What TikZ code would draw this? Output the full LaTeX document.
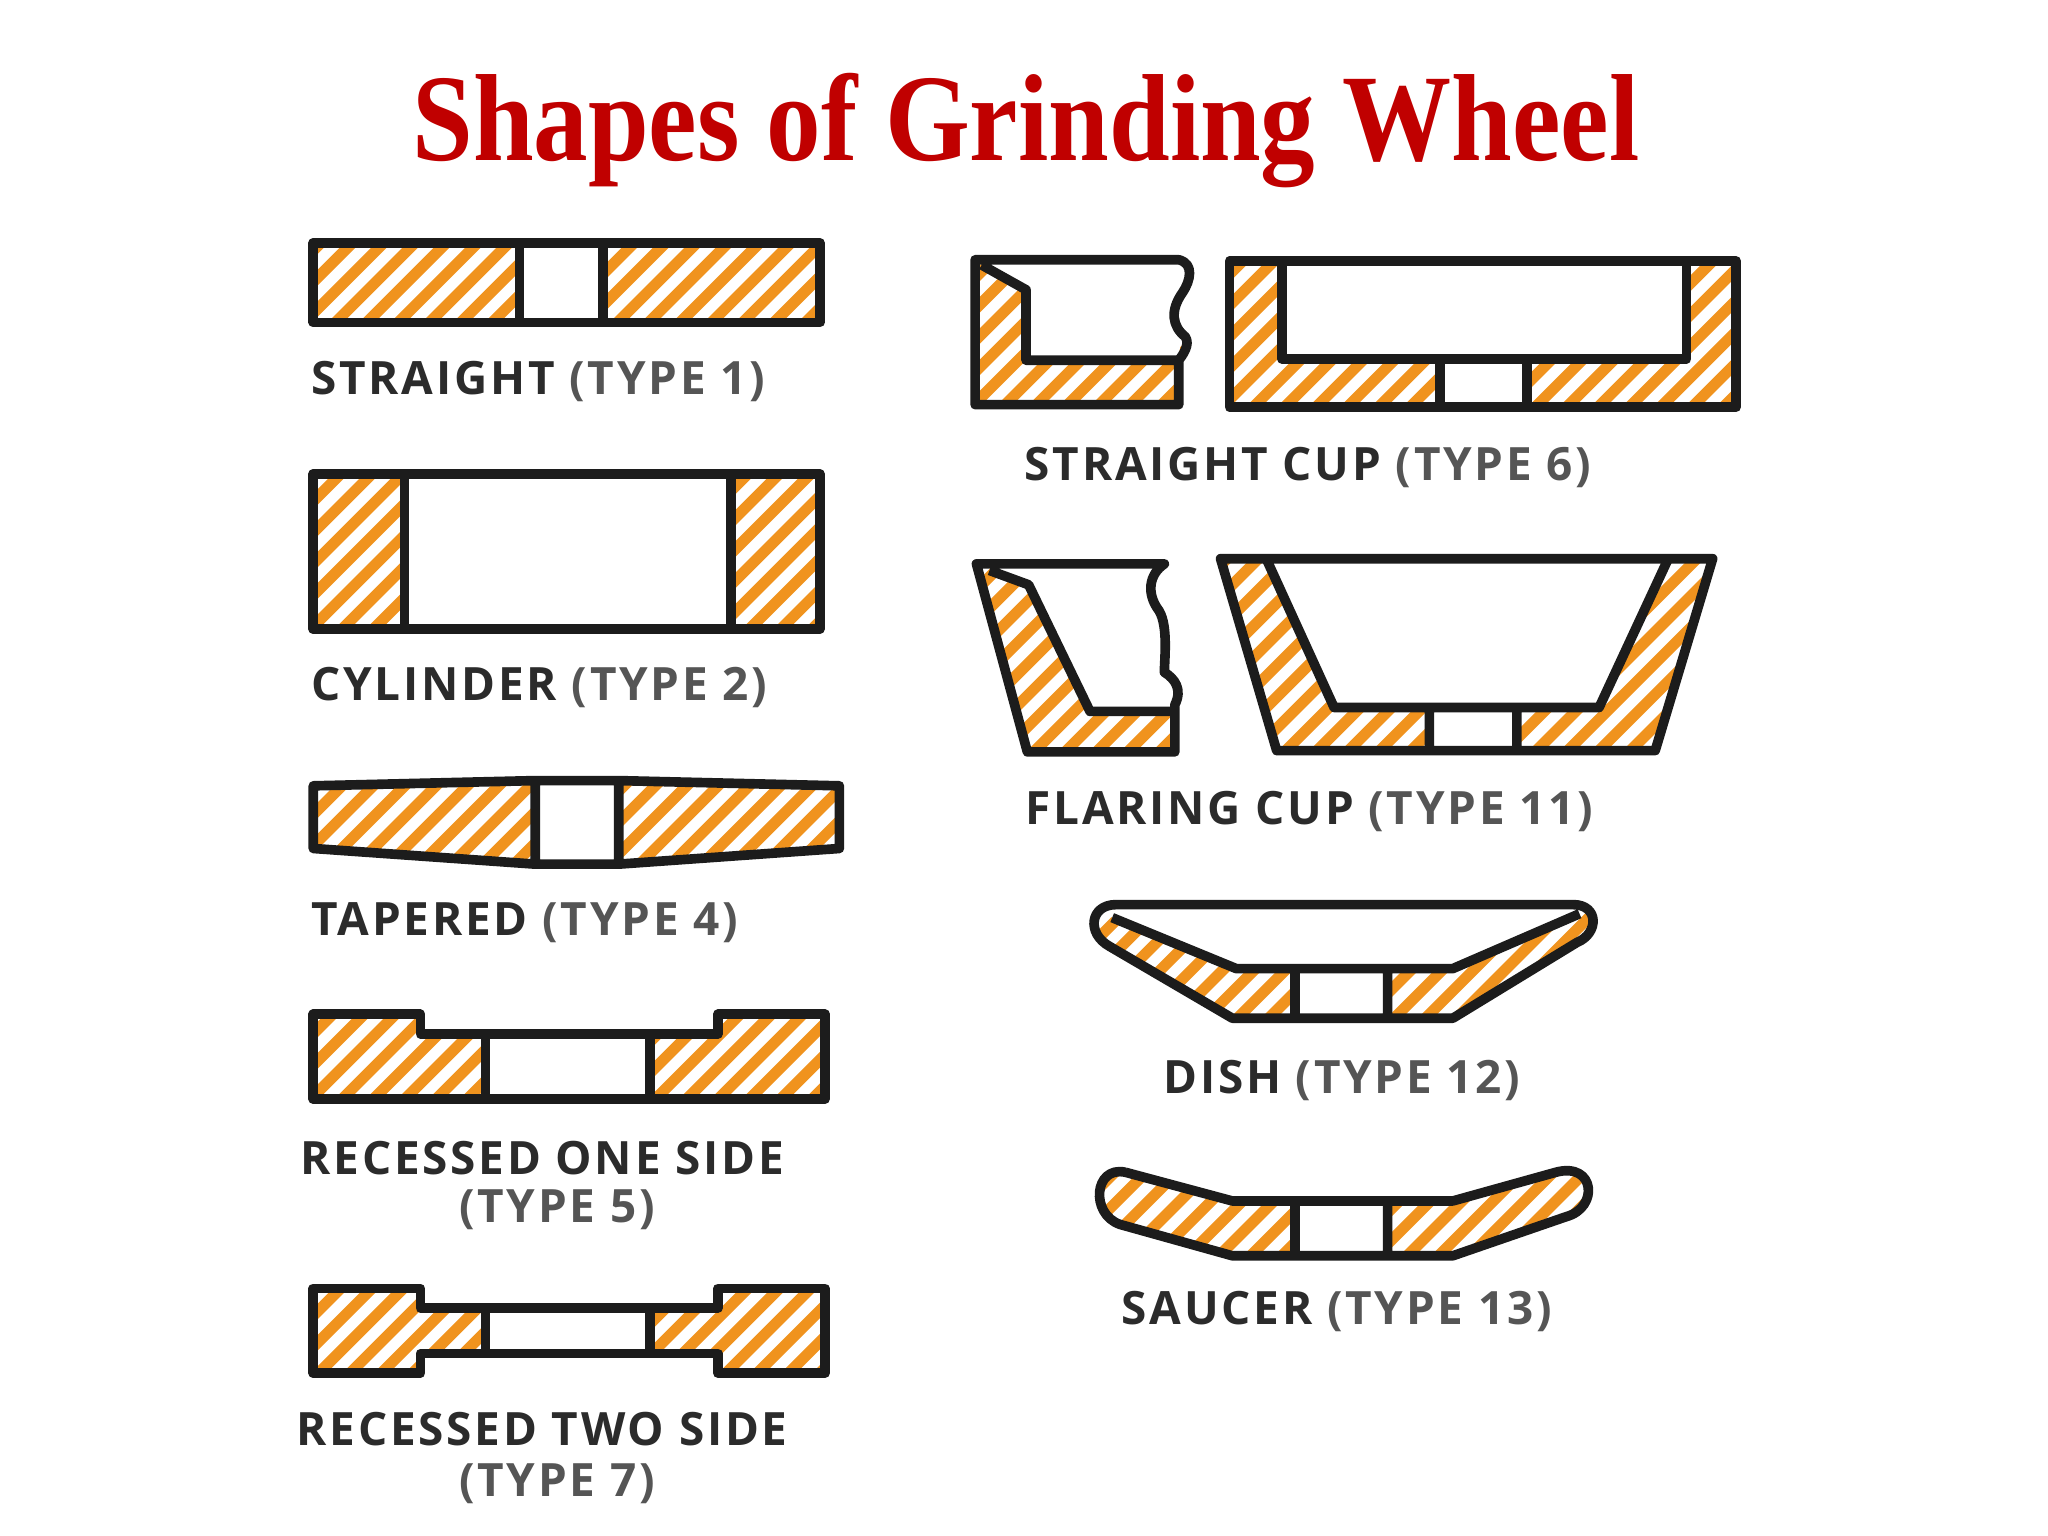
\documentclass[tikz,border=0pt]{standalone}
\usepackage{fontspec}
\setmainfont{Open Sans}
\newfontfamily\titlefont{Liberation Serif}
\newfontfamily\labfont[LetterSpace=6]{Open Sans}
\definecolor{hatchor}{HTML}{F0931E}
\definecolor{ink}{HTML}{1C1C1C}
\definecolor{labdark}{HTML}{2B2B2B}
\definecolor{labgray}{HTML}{555555}
\definecolor{titlered}{HTML}{C00000}
\newcommand\hatchfill{\foreach \k in {-1300,-1276,...,1600} \draw[hatchor,line width=2.4pt] (\k,1300)--(\k+1300,0);}
\newcommand\lab[2]{{\bfseries\color{labdark}#1} {\bfseries\color{labgray}#2}}
\tikzset{outl/.style={ink,line width=2.1pt,line join=round},
 labl/.style={font=\labfont\fontsize{10}{12}\selectfont,inner sep=0pt},
 hole/.style={fill=white}}
\begin{document}
\begin{tikzpicture}
\useasboundingbox (0,0) rectangle (15.68,-11.76);
\fill[white] (0,0) rectangle (15.68,-11.76);
\begin{scope}[x=0.01cm,y=-0.01cm]
\node[inner sep=0,font=\titlefont\bfseries\fontsize{27}{30}\selectfont,text=titlered] (title) at (786,100) {\scalebox{0.88}[1]{Shapes of Grinding Wheel}};
% 1 straight
\begin{scope}\clip (240,186) rectangle (628,247); \hatchfill \end{scope}
\fill[hole] (398,186) rectangle (462,247);
\draw[outl] (240,186) rectangle (628,247) (398,186)--(398,247) (462,186)--(462,247);
\node[labl,anchor=west] (l1) at (238,292) {\lab{STRAIGHT}{(TYPE 1)}};
% 2 cylinder
\begin{scope}\clip (240,363) rectangle (628,482); \hatchfill \end{scope}
\fill[hole] (310,363) rectangle (560,482);
\draw[outl] (240,363) rectangle (628,482) (310,363)--(310,482) (560,363)--(560,482);
\node[labl,anchor=west] (l2) at (238,527) {\lab{CYLINDER}{(TYPE 2)}};
% 3 tapered
\def\tap{(240,602)--(410,598)--(474,598)--(643,602)--(643,650)--(474,662)--(410,662)--(240,650)--cycle}
\begin{scope}\clip \tap; \hatchfill \end{scope}
\fill[hole] (410,598) rectangle (474,662);
\draw[outl] \tap (410,598)--(410,662) (474,598)--(474,662);
\node[labl,anchor=west] (l3) at (238,707) {\lab{TAPERED}{(TYPE 4)}};
% 4 recessed one side
\def\rone{(240,777)--(322,777)--(322,792)--(550,792)--(550,777)--(632,777)--(632,842)--(240,842)--cycle}
\begin{scope}\clip \rone; \hatchfill \end{scope}
\fill[hole] (372,792) rectangle (498,842);
\draw[outl] \rone (372,792)--(372,842) (498,792)--(498,842);
\node[labl] (l4a) at (421,887) {\lab{RECESSED ONE SIDE}{}};
\node[labl] (l4b) at (421,927) {\lab{}{(TYPE 5)}};
% 5 recessed two side
\def\rtwo{(240,987)--(322,987)--(322,1002)--(550,1002)--(550,987)--(632,987)--(632,1052)--(550,1052)--(550,1037)--(322,1037)--(322,1052)--(240,1052)--cycle}
\begin{scope}\clip \rtwo; \hatchfill \end{scope}
\fill[hole] (372,1002) rectangle (498,1037);
\draw[outl] \rtwo (372,1002)--(372,1037) (498,1002)--(498,1037);
\node[labl] (l5a) at (421,1095) {\lab{RECESSED TWO SIDE}{}};
\node[labl] (l5b) at (421,1137) {\lab{}{(TYPE 7)}};
% 6 straight cup section
\def\scs{(747,199)--(903,199) .. controls (915,202) and (912,215) .. (906,224) .. controls (896,238) and (898,250) .. (908,258) .. controls (912,264) and (906,272) .. (903,276)--(903,310)--(747,310)--cycle}
\begin{scope}\clip \scs; \hatchfill \end{scope}
\fill[hole] (752,199)--(786,222)--(786,276)--(903,276)--(910,199)--cycle;
\draw[outl] \scs (752,203)--(786,222)--(786,276)--(903,276);
% straight cup
\begin{scope}\clip (942,200) rectangle (1330,312); \hatchfill \end{scope}
\fill[hole] (982,200) rectangle (1292,275);
\fill[hole] (1103,275) rectangle (1170,312);
\draw[outl] (942,200) rectangle (1330,312) (982,200)--(982,275)--(1292,275)--(1292,200) (1103,275)--(1103,312) (1170,275)--(1170,312);
\node[labl] (l6) at (1002,358) {\lab{STRAIGHT CUP}{(TYPE 6)}};
% 7 flaring section
\def\fcs{(748,432)--(892,432) .. controls (880,440) and (878,455) .. (888,468) .. controls (895,480) and (892,505) .. (892,515) .. controls (900,520) and (906,528) .. (900,540)--(900,576)--(787,576)--cycle}
\begin{scope}\clip \fcs; \hatchfill \end{scope}
\fill[hole] (758,432)--(788,448)--(835,545)--(900,545)--(900,432)--cycle;
\draw[outl] \fcs (758,437)--(788,448)--(835,545)--(900,545);
% flaring cup
\def\fc{(935,428)--(1312,428)--(1268,575)--(978,575)--cycle}
\begin{scope}\clip \fc; \hatchfill \end{scope}
\fill[hole] (970,428)--(1278,428)--(1225,542)--(1022,542)--cycle;
\fill[hole] (1095,542) rectangle (1162,575);
\draw[outl] \fc (970,428)--(1022,542)--(1225,542)--(1278,428) (1095,542)--(1095,575) (1162,542)--(1162,575);
\node[labl] (l7) at (1003,622) {\lab{FLARING CUP}{(TYPE 11)}};
% 8 dish
\def\dish{(855,693)--(1205,693) .. controls (1225,693) and (1225,715) .. (1208,722)--(1113,780)--(944,780)--(850,725) .. controls (832,715) and (835,693) .. (855,693)}
\begin{scope}\clip \dish; \hatchfill \end{scope}
\fill[hole] (830,680)--(1230,680)--(1210,700)--(1113,742)--(947,742)--(852,703)--cycle;
\fill[hole] (992,742) rectangle (1063,780);
\draw[outl] \dish (852,703)--(947,742)--(1113,742)--(1210,700) (992,742)--(992,780) (1063,742)--(1063,780);
\node[labl] (l8) at (1028,828) {\lab{DISH}{(TYPE 12)}};
% 9 saucer
\def\sau{(862,898)--(944,920)--(1113,920)--(1192,898) .. controls (1222,890) and (1225,925) .. (1200,932)--(1113,962)--(944,962)--(858,938) .. controls (835,930) and (838,893) .. (862,898)}
\begin{scope}\clip \sau; \hatchfill \end{scope}
\fill[hole] (992,920) rectangle (1063,962);
\draw[outl] \sau (992,920)--(992,962) (1063,920)--(1063,962);
\node[labl] (l9) at (1024,1005) {\lab{SAUCER}{(TYPE 13)}};
\end{scope}
\end{tikzpicture}
\end{document}
